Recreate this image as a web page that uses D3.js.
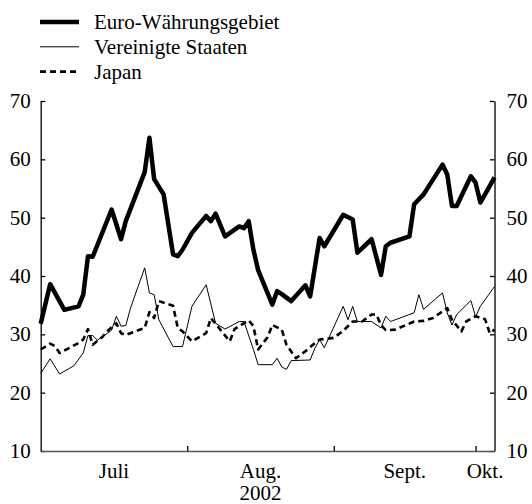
<!DOCTYPE html>
<html>
<head>
<meta charset="utf-8">
<script src="https://cdn.jsdelivr.net/npm/d3@7"></script>
</head>
<body style="margin:0">
<svg id="chart" width="532" height="504"></svg>
<script>
// values, [month-day 2002, value]
const euroSeries = [
  ["07-01", 31.8], ["07-03", 38.6], ["07-06", 34.2], ["07-09", 34.8], ["07-10", 36.8],
  ["07-11", 43.4], ["07-12", 43.3], ["07-16", 51.4], ["07-18", 46.3], ["07-19", 49.4],
  ["07-23", 57.8], ["07-24", 63.7], ["07-25", 56.6], ["07-27", 54.0], ["07-29", 43.7],
  ["07-30", 43.4], ["07-31", 44.5], ["08-02", 47.4], ["08-05", 50.3], ["08-06", 49.4],
  ["08-07", 50.7], ["08-09", 46.8], ["08-12", 48.5], ["08-13", 48.2], ["08-14", 49.4],
  ["08-15", 44.5], ["08-16", 41.0], ["08-19", 35.1], ["08-20", 37.4], ["08-21", 36.9],
  ["08-23", 35.7], ["08-26", 38.4], ["08-27", 36.5], ["08-29", 46.5], ["08-30", 45.1],
  ["09-03", 50.5], ["09-05", 49.7], ["09-06", 44.0], ["09-09", 46.3], ["09-11", 40.2],
  ["09-12", 45.1], ["09-13", 45.7], ["09-17", 46.8], ["09-18", 52.3], ["09-20", 54.0],
  ["09-24", 59.1], ["09-25", 57.4], ["09-26", 52.0], ["09-27", 52.0], ["09-30", 57.1],
  ["10-01", 56.0], ["10-02", 52.6], ["10-03", 54.0], ["10-05", 56.9]
];

const usSeries = [
  ["07-01", 23.3], ["07-03", 25.8], ["07-05", 23.2], ["07-08", 24.6], ["07-10", 26.8],
  ["07-11", 29.8], ["07-12", 29.8], ["07-13", 29.0], ["07-16", 30.7], ["07-17", 33.1],
  ["07-18", 31.4], ["07-19", 31.5], ["07-20", 34.5], ["07-23", 41.4], ["07-24", 37.1],
  ["07-25", 36.8], ["07-26", 32.5], ["07-29", 27.9], ["07-31", 27.9], ["08-02", 34.8],
  ["08-05", 38.5], ["08-07", 31.9], ["08-09", 30.9], ["08-12", 32.2], ["08-13", 32.2],
  ["08-15", 27.4], ["08-16", 24.8], ["08-19", 24.8], ["08-20", 25.9], ["08-21", 24.4],
  ["08-22", 24.0], ["08-23", 25.5], ["08-27", 25.6], ["08-28", 27.6], ["08-29", 29.1],
  ["08-30", 27.7], ["09-03", 34.8], ["09-04", 32.5], ["09-05", 34.8], ["09-06", 32.2],
  ["09-09", 32.2], ["09-11", 31.1], ["09-12", 33.1], ["09-13", 32.2], ["09-18", 33.7],
  ["09-19", 36.8], ["09-20", 34.3], ["09-24", 37.1], ["09-25", 33.7], ["09-26", 31.6],
  ["09-27", 33.4], ["09-30", 35.8], ["10-01", 33.0], ["10-02", 34.8], ["10-05", 38.2]
];

const japanSeries = [
  ["07-01", 27.4], ["07-03", 28.4], ["07-04", 28.0], ["07-05", 26.8], ["07-09", 28.5],
  ["07-10", 29.1], ["07-11", 30.9], ["07-12", 28.2], ["07-14", 29.5], ["07-15", 30.5],
  ["07-17", 31.9], ["07-18", 30.2], ["07-19", 29.9], ["07-23", 31.1], ["07-24", 33.8],
  ["07-25", 32.8], ["07-26", 35.7], ["07-29", 34.9], ["07-30", 31.1], ["07-31", 30.5],
  ["08-02", 28.8], ["08-05", 30.2], ["08-06", 32.8], ["08-08", 30.8], ["08-10", 28.8],
  ["08-11", 30.9], ["08-14", 32.4], ["08-15", 31.4], ["08-16", 27.4], ["08-18", 29.5],
  ["08-19", 31.6], ["08-21", 30.8], ["08-22", 28.2], ["08-24", 25.9], ["08-26", 27.1],
  ["08-28", 28.5], ["08-29", 29.1], ["09-01", 29.4], ["09-03", 30.6], ["09-05", 32.2],
  ["09-07", 32.2], ["09-09", 33.4], ["09-10", 33.4], ["09-11", 31.6], ["09-12", 30.7],
  ["09-14", 30.8], ["09-16", 31.5], ["09-18", 32.2], ["09-20", 32.3], ["09-22", 32.8],
  ["09-25", 34.5], ["09-26", 32.5], ["09-28", 30.5], ["09-29", 32.2], ["10-01", 33.1],
  ["10-03", 32.6], ["10-04", 30.2], ["10-05", 30.8]
];

const seriesNames = ["Euro-Währungsgebiet", "Vereinigte Staaten", "Japan"];
const yTicks = [10, 20, 30, 40, 50, 60, 70];
const monthLabels = ["Juli", "Aug.", "Sept.", "Okt."];
const yearLabel = "2002";

const serif = sel => sel
  .style("font-family", '"Liberation Serif"')
  .style("font-size", "21px")
  .style("fill", "#000");

const parse = d3.timeParse("%Y-%m-%d");
const toPoints = s => s.map(([d, v]) => ({ date: parse("2002-" + d), value: v }));

const plot = { left: 40.7, right: 494.5, top: 101, bottom: 451 };
const start = parse("2002-07-01"), end = parse("2002-10-05");

const x = d3.scaleTime().domain([start, end]).range([plot.left, plot.right]);
const y = d3.scaleLinear().domain([10, 70]).range([plot.bottom, plot.top]);

const svg = d3.select("#chart");

// y axes: numbers as own text elements, ticks from the axis generator
const leftAxis = svg.append("g")
  .attr("transform", `translate(${plot.left},0)`)
  .call(d3.axisLeft(y).tickValues(yTicks).tickSize(-4.5).tickSizeOuter(0).tickFormat(""));

const rightAxis = svg.append("g")
  .attr("transform", `translate(${plot.right},0)`)
  .call(d3.axisRight(y).tickValues(yTicks).tickSize(-4.5).tickSizeOuter(0).tickFormat(""));

svg.append("g").selectAll("text")
  .data(yTicks)
  .enter()
  .append("text")
  .attr("x", plot.left - 10)
  .attr("y", d => y(d) + 7)
  .attr("text-anchor", "end")
  .text(d => d)
  .call(serif);

svg.append("g").selectAll("text")
  .data(yTicks)
  .enter()
  .append("text")
  .attr("x", plot.right + 12)
  .attr("y", d => y(d) + 7)
  .text(d => d)
  .call(serif);

const monthStarts = d3.timeMonth.range(d3.timeMonth.offset(start, 1), end);

const bottomAxis = svg.append("g")
  .attr("transform", `translate(0,${plot.bottom})`)
  .call(d3.axisBottom(x).tickValues(monthStarts).tickSize(-5).tickSizeOuter(0).tickFormat(""));

[leftAxis, rightAxis, bottomAxis].forEach(g => {
  g.selectAll("path, line").attr("stroke", "#000").attr("stroke-width", 1.3);
});
bottomAxis.select(".domain").attr("stroke", "#555").attr("stroke-width", 1.6);

// month labels centred in each month (clipped to the domain)
const bounds = [start, ...monthStarts, end];
svg.append("g").selectAll("text")
  .data(monthLabels)
  .enter()
  .append("text")
  .attr("x", (d, i) => (x(bounds[i]) + x(bounds[i + 1])) / 2)
  .attr("y", 478)
  .attr("text-anchor", "middle")
  .text(d => d)
  .call(serif);

svg.append("text")
  .attr("x", (x(bounds[1]) + x(bounds[2])) / 2)
  .attr("y", 500)
  .attr("text-anchor", "middle")
  .text(yearLabel)
  .call(serif);

// lines
const line = d3.line()
  .x(d => x(d.date))
  .y(d => y(d.value));

const styles = [
  { width: 4.5, dash: null },
  { width: 1, dash: null },
  { width: 2.6, dash: "6,4" }
];
const allSeries = [euroSeries, usSeries, japanSeries];

svg.append("g").selectAll("path")
  .data([2, 1, 0])
  .enter()
  .append("path")
  .attr("d", i => line(toPoints(allSeries[i])))
  .attr("fill", "none")
  .attr("stroke", "#000")
  .attr("stroke-width", i => styles[i].width)
  .attr("stroke-dasharray", i => styles[i].dash)
  .attr("stroke-linejoin", "round");

// legend
const legend = svg.append("g").selectAll("g")
  .data(seriesNames)
  .enter()
  .append("g")
  .attr("transform", (d, i) => `translate(0,${22 + i * 24.8})`);

legend.append("line")
  .attr("x1", 40).attr("x2", 79)
  .attr("stroke", "#000")
  .attr("stroke-width", (d, i) => styles[i].width)
  .attr("stroke-dasharray", (d, i) => styles[i].dash);

legend.append("text")
  .attr("x", 94)
  .attr("y", 7)
  .text(d => d)
  .call(serif);
</script>
</body>
</html>
